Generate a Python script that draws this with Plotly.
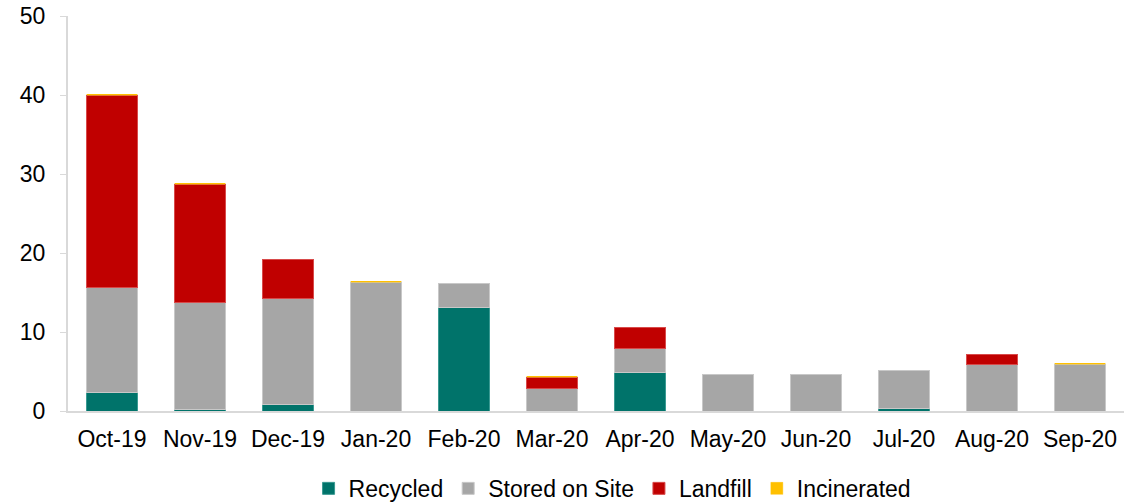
import plotly.graph_objects as go

months = ["Oct-19", "Nov-19", "Dec-19", "Jan-20", "Feb-20", "Mar-20",
          "Apr-20", "May-20", "Jun-20", "Jul-20", "Aug-20", "Sep-20"]
recycled = [2.4, 0.2, 0.8, 0, 13.1, 0, 4.85, 0, 0, 0.35, 0, 0]
stored_on_site = [13.2, 13.5, 13.5, 16.3, 3.08, 2.85, 3.12, 4.56, 4.56, 4.81, 5.86, 5.9]
landfill = [24.4, 15.0, 4.85, 0, 0, 1.4, 2.65, 0, 0, 0, 1.3, 0]
incinerated = [0.12, 0.1, 0, 0.15, 0, 0.12, 0, 0, 0, 0, 0, 0.15]
y_ticks = [0, 10, 20, 30, 40, 50]

# name, values, fill colour, outline colour, outline width
series = [
    ("Recycled", recycled, "#00736A", "#3A9A92", 1),
    ("Stored on Site", stored_on_site, "#A6A6A6", "#C8C8C8", 1),
    ("Landfill", landfill, "#C00000", "#D84A4A", 1),
    ("Incinerated", incinerated, "#FFC000", "#FFC000", 0.4),
]

fig = go.Figure()
for name, vals, color, edge, edge_w in series:
    # empty segments are left out so their outlines are not drawn
    fig.add_trace(go.Bar(
        x=months, y=[v if v else None for v in vals], name=name,
        marker=dict(color=color, line=dict(color=edge, width=edge_w)),
    ))

font = dict(family="Liberation Sans, Arial, sans-serif", size=23, color="#000000")

fig.update_layout(
    barmode="stack",
    bargap=0.43,
    width=1145, height=503,
    margin=dict(l=68, r=21, t=16, b=92, autoexpand=False),
    plot_bgcolor="white", paper_bgcolor="white",
    font=font,
    showlegend=True,
    legend=dict(orientation="h", xref="container", yref="container",
                x=0.535, xanchor="center", y=0.029, yanchor="middle",
                font=font, traceorder="normal", itemwidth=30),
    xaxis=dict(showline=True, linecolor="#D9D9D9", linewidth=2, ticks="",
               showgrid=False, tickfont=font, automargin=False,
               ticklabelstandoff=6),
    yaxis=dict(range=[0, 50], tickvals=y_ticks, showline=True, linecolor="#D9D9D9",
               linewidth=2, ticks="outside", ticklen=6, tickcolor="#D9D9D9",
               showgrid=False, zeroline=False, tickfont=font, ticklabelstandoff=10,
               automargin=False),
)

fig.write_html("out.html")
